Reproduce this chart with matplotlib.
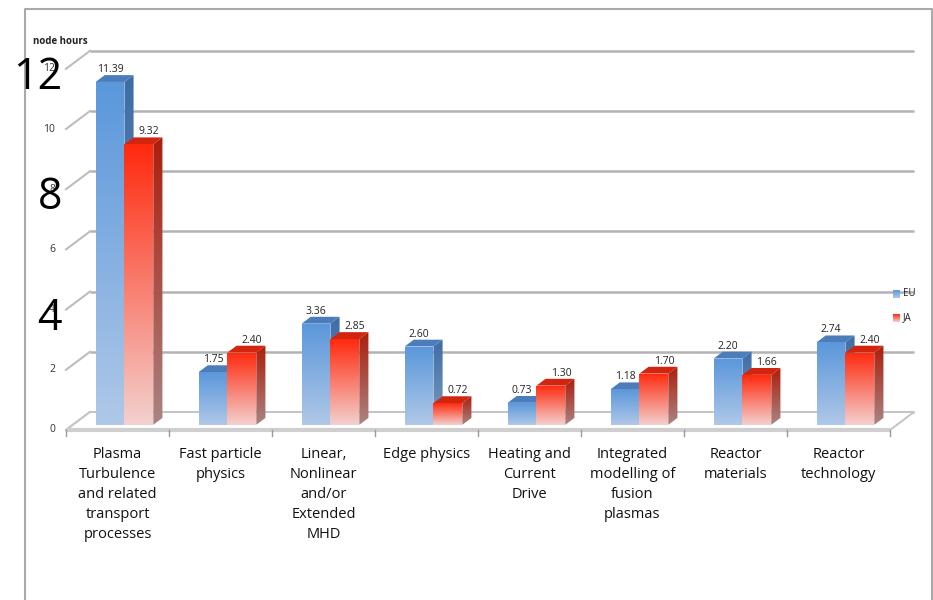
import numpy as np
import matplotlib.pyplot as plt
from matplotlib.patches import Polygon
from matplotlib.colors import to_rgb

plt.rcParams['font.family'] = ['Open Sans', 'DejaVu Sans']

categories = ['Plasma\nTurbulence\nand related\ntransport\nprocesses',
              'Fast particle\nphysics',
              'Linear,\nNonlinear\nand/or\nExtended\nMHD',
              'Edge physics',
              'Heating and\nCurrent\nDrive',
              'Integrated\nmodelling of\nfusion\nplasmas',
              'Reactor\nmaterials',
              'Reactor\ntechnology']
eu = [11.39, 1.75, 3.36, 2.60, 0.73, 1.18, 2.20, 2.74]
ja = [9.32, 2.40, 2.85, 0.72, 1.30, 1.70, 1.66, 2.40]
yticks = [0, 2, 4, 6, 8, 10, 12]
big_ticks = [12, 8, 4]

# pixel scale of one category / one node-hour unit
CAT_PX = 103.0
UNIT_PX = 30.1
# oblique depth vector (full wall depth) in data units
DX = 24 / CAT_PX
DY = 18 / UNIT_PX
D0, D1 = 0.29, 0.67   # bar front/back depth
W = 0.28              # bar width per series

fig = plt.figure(figsize=(9.33, 6.0), dpi=100)
ax = fig.add_axes([0, 0, 1, 1])
ax.set_autoscale_on(False)
ax.set_xlim(-66 / CAT_PX, 867 / CAT_PX)
ax.set_ylim(-170 / UNIT_PX, 430 / UNIT_PX)
ax.axis('off')


def P(x, y, d):
    return (x + d * DX, y + d * DY)


def grad(top, bottom, n=96):
    t = np.linspace(0, 1, n)[:, None]
    a, b = np.array(to_rgb(top)), np.array(to_rgb(bottom))
    return (a * (1 - t) + b * t)[:, None, :]


def shade(verts, top, bottom, z):
    poly = Polygon(verts, closed=True, facecolor='none', edgecolor='none', zorder=z)
    ax.add_patch(poly)
    xs, ys = zip(*verts)
    im = ax.imshow(grad(top, bottom), extent=(min(xs), max(xs), min(ys), max(ys)),
                   aspect='auto', interpolation='bilinear', origin='upper', zorder=z)
    im.set_clip_path(poly)


# outer frame
fx0, fx1 = -41 / CAT_PX, 866 / CAT_PX
fy0, fy1 = -170 / UNIT_PX, 421 / UNIT_PX
ax.plot([fx0, fx0, fx1, fx1], [fy0, fy1, fy1, fy0], color='#a9a9a9', lw=1.5, zorder=1)

# back wall gridlines and left wall
for v in yticks:
    ax.plot([DX, 8 + DX], [v + DY, v + DY], color='#b3b3b3', lw=1.8, zorder=2,
            solid_capstyle='butt')
    ax.plot([0, DX], [v, v + DY], color='#bdbdbd', lw=1.5, zorder=2)

# floor
floor = [P(0, 0, 0), P(8, 0, 0), P(8, 0, 1), P(0, 0, 1)]
ax.add_patch(Polygon(floor, closed=True, facecolor='white', edgecolor='#c4c4c4',
                     lw=1.4, zorder=3))
ax.plot([0, 8], [0, 0], color='#cfcfcf', lw=3, zorder=3, solid_capstyle='butt')
for i in range(9):
    ax.plot([i, i], [0, -6 / UNIT_PX], color='#9a9a9a', lw=1, zorder=3)

series = [
    (eu, -W, dict(front=('#5a97db', '#afc8e7'), side=('#3d6ca6', '#7e9cc2'),
                  top='#4b7dbb'), 0.0),
    (ja, 0.0, dict(front=('#ff2a0e', '#f3d0ce'), side=('#ad1e0c', '#a98482'),
                   top='#d1250f'), 10 / CAT_PX),
]

for i in range(len(categories)):
    c = i + 0.5
    for vals, off, col, lab_dx in series:
        v = vals[i]
        x0, x1 = c + off, c + off + W
        z = 4 + i * 0.1 + (0.05 if off == 0 else 0)
        side = [P(x1, 0, D0), P(x1, 0, D1), P(x1, v, D1), P(x1, v, D0)]
        shade(side, col['side'][0], col['side'][1], z)
        top = [P(x0, v, D0), P(x1, v, D0), P(x1, v, D1), P(x0, v, D1)]
        ax.add_patch(Polygon(top, closed=True, facecolor=col['top'],
                             edgecolor='none', zorder=z))
        front = [P(x0, 0, D0), P(x1, 0, D0), P(x1, v, D0), P(x0, v, D0)]
        shade(front, col['front'][0], col['front'][1], z + 0.01)
        lx, ly = P((x0 + x1) / 2 + lab_dx, v, D0)
        ax.text(lx, ly + 7 / UNIT_PX, f'{v:.2f}', ha='center', va='bottom',
                fontsize=7.5, color='#222222', zorder=6)

# axis labels
for v in yticks:
    ax.text(-11 / CAT_PX, v, str(v), ha='right', va='center', fontsize=7.5,
            color='#333333')
for v in big_ticks:
    ax.text(-4 / CAT_PX, v - 0.3, str(v), ha='right', va='center', fontsize=31,
            color='black')
ax.text(-33 / CAT_PX, 389 / UNIT_PX, 'node hours', ha='left', va='center',
        fontsize=7, fontweight='bold', color='#222222')

for i, name in enumerate(categories):
    ax.text(i + 0.5, -17 / UNIT_PX, name, ha='center', va='top', fontsize=10.5,
            linespacing=1.45, color='#111111')

# legend
for k, (name, col) in enumerate([('EU', ('#5a97db', '#afc8e7')),
                                 ('JA', ('#ff2a0e', '#f3d0ce'))]):
    yc = (136 - 24 * k) / UNIT_PX
    lx0 = 827 / CAT_PX
    sq = [(lx0, yc - 4 / UNIT_PX), (lx0 + 7 / CAT_PX, yc - 4 / UNIT_PX),
          (lx0 + 7 / CAT_PX, yc + 4 / UNIT_PX), (lx0, yc + 4 / UNIT_PX)]
    shade(sq, col[0], col[1], 6)
    ax.text(lx0 + 10 / CAT_PX, yc, name, ha='left', va='center', fontsize=7,
            color='#222222')

fig.savefig('out.png', dpi=100)
